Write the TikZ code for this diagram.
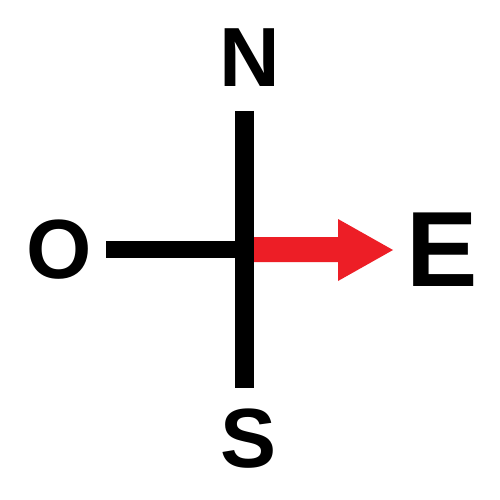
\documentclass[tikz,border=0pt]{standalone}
\usepackage{fontspec}
\setmainfont{Liberation Sans}
\definecolor{arrowred}{RGB}{237,30,38}
\begin{document}
\begin{tikzpicture}[x=1pt,y=-1pt,
  letter/.style={inner sep=0pt,font=\bfseries\fontsize{84}{90}\selectfont},
  bigletter/.style={inner sep=0pt,font=\bfseries\fontsize{107}{115}\selectfont},
  axis/.style={draw=black,line width=19pt},
  harm/.style={draw=black,line width=17pt}]
\useasboundingbox (0,0) rectangle (500,500);
\fill[white] (0,0) rectangle (500,500);
\node[letter] (N) at (249.5,58) {N};
\node[letter] (S) at (249,439) {S};
\node[letter] (O) at (59.5,249.5) {O};
\node[bigletter] (E) at (442,249.5) {E};
\coordinate (top) at (244.5,111);
\coordinate (bot) at (244.5,388);
\coordinate (west) at (106,249.5);
\coordinate (ctr) at (244.5,249.5);
\draw[axis] (top) -- (bot);
\draw[harm] (west) -- (ctr);
\fill[arrowred] (254,237) -- (338,237) -- (338,219) -- (393,250) -- (338,281) -- (338,262) -- (254,262) -- cycle;
\end{tikzpicture}
\end{document}
